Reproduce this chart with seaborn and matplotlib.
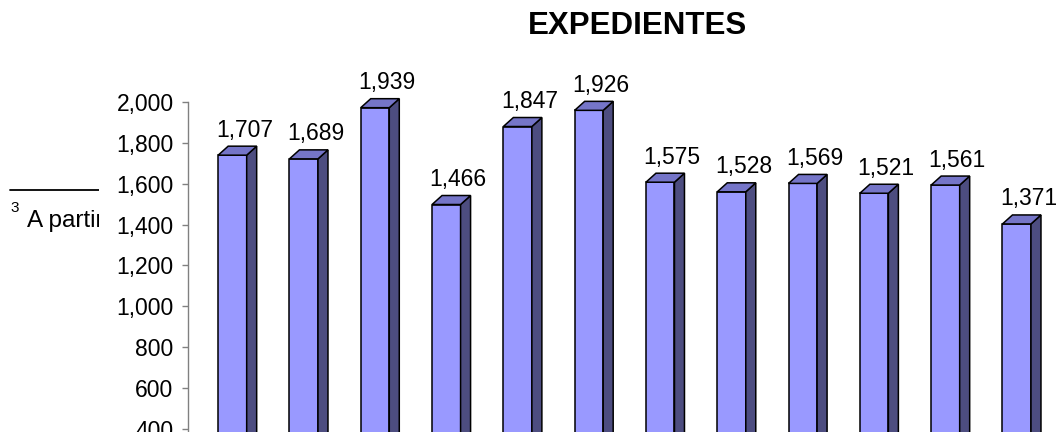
import matplotlib
matplotlib.use("Agg")
import matplotlib.pyplot as plt
from matplotlib.patches import Polygon, Rectangle
import seaborn as sns
import pandas as pd

# ---- data ----
categories = ["Ene", "Feb", "Mar", "Abr", "May", "Jun",
              "Jul", "Ago", "Sep", "Oct", "Nov", "Dic"]
values = [1707, 1689, 1939, 1466, 1847, 1926, 1575, 1528, 1569, 1521, 1561, 1371]
y_ticks = [400, 600, 800, 1000, 1200, 1400, 1600, 1800, 2000]
title = "EXPEDIENTES"
footnote = "A partir"

FRONT = "#9999FF"
SIDE = "#4D4D80"
TOP = "#7575C8"

sns.set_style("white")
plt.rcParams["font.family"] = ["Liberation Sans", "DejaVu Sans"]
plt.rcParams["text.color"] = "black"
plt.rcParams["ytick.labelcolor"] = "black"

DPI = 100
fig = plt.figure(figsize=(10.57, 4.32), dpi=DPI)
W, H = 1057, 432

ax = fig.add_axes([187.5 / W, 0, 1 - 187.5 / W, (432 - 101.7) / H])
ax.set_zorder(1)
ax.patch.set_alpha(0)

df = pd.DataFrame({"cat": categories, "val": values})
sns.barplot(data=df, x="cat", y="val", order=categories, color=FRONT,
            saturation=1, width=0.40, edgecolor="black", linewidth=1.1, ax=ax)

ax.set_xlim(-0.63, 11.565)
ax.set_ylim(386.4, 2000)
ax.set_yticks(y_ticks)
ax.set_yticklabels([f"{v:,}" for v in y_ticks], fontsize=16.5, color="black")
ax.set_xticks([])
ax.set_xlabel("")
ax.set_ylabel("")
for s in ["top", "right", "bottom"]:
    ax.spines[s].set_visible(False)
ax.spines["left"].set_color("#808080")
ax.spines["left"].set_linewidth(1.0)
ax.tick_params(axis="y", direction="out", length=4, width=1.0,
               color="#808080", pad=6, labelcolor="black", left=True)

fig.canvas.draw()
# pixel -> data conversions
p0 = ax.transData.transform((0, 1000))
p1 = ax.transData.transform((1, 1200))
px_x = p1[0] - p0[0]
px_y = (p1[1] - p0[1])
depth_dx = 10 / px_x
depth_dy = 9 / px_y * 200
lift = 6.5 / px_y * 200

for patch in list(ax.patches):
    x0 = patch.get_x()
    w = patch.get_width()
    v = patch.get_height()
    x1 = x0 + w
    patch.set_y(patch.get_y() + lift)
    patch.set_clip_on(False)
    top_y = v + lift
    bot_y = patch.get_y()
    side = Polygon([(x1, bot_y), (x1, top_y), (x1 + depth_dx, top_y + depth_dy),
                    (x1 + depth_dx, bot_y + depth_dy)], closed=True,
                   facecolor=SIDE, edgecolor="black", linewidth=1.1,
                   clip_on=False, zorder=patch.get_zorder())
    top = Polygon([(x0, top_y), (x1, top_y), (x1 + depth_dx, top_y + depth_dy),
                   (x0 + depth_dx, top_y + depth_dy)], closed=True,
                  facecolor=TOP, edgecolor="black", linewidth=1.1,
                  clip_on=False, zorder=patch.get_zorder())
    ax.add_patch(side)
    ax.add_patch(top)
    ax.annotate(f"{int(round(v)):,}", xy=(x0 + w / 2, v), xytext=(8.6, 18),
                textcoords="offset points", ha="center", va="baseline",
                fontsize=16.5, color="black", annotation_clip=False)

fig.text(637 / W, 1 - 26 / H, title, ha="center", va="center",
         fontsize=22.5, fontweight="bold", color="black")

# footnote fragment, partly hidden behind the chart area
fig.add_artist(plt.Line2D([10 / W, 99 / W], [1 - 190 / H, 1 - 190 / H],
                          color="black", linewidth=1.3, zorder=0.2))
fig.text(10 / W, 1 - 212 / H, "3", fontsize=11, ha="left", va="baseline",
         color="black", zorder=0.3)
fig.text(27 / W, 1 - 227 / H, footnote, fontsize=17.5, ha="left", va="baseline",
         color="black", zorder=0.3)
fig.add_artist(Rectangle((99 / W, 0), 1 - 99 / W, 1, transform=fig.transFigure,
                         facecolor="white", edgecolor="none", zorder=0.5))

fig.savefig("out.png", dpi=DPI)
